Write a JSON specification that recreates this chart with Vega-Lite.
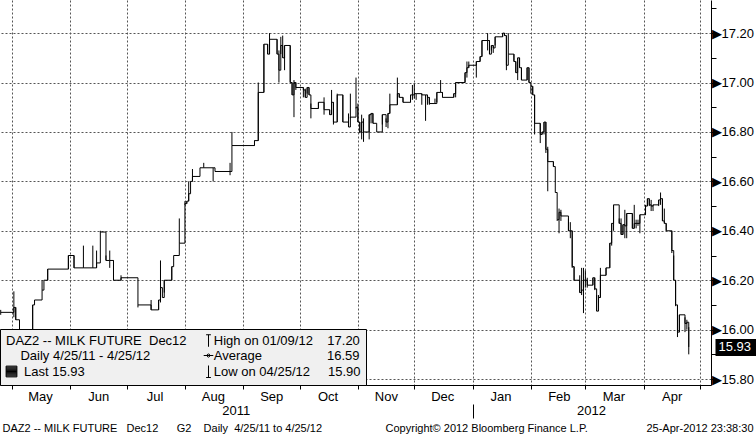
{
  "$schema": "https://vega.github.io/schema/vega-lite/v6.json",
  "width": 711,
  "height": 385,
  "autosize": {"type": "none"},
  "padding": {"left": 0, "top": 0, "right": 45, "bottom": 51},
  "background": "white",
  "config": {
    "font": "Liberation Sans",
    "view": {"stroke": null},
    "axis": {"labelFont": "Liberation Sans", "labelColor": "black", "titleColor": "black"}
  },
  "datasets": {
    "px": [
      {"date": "2011-04-25", "low": 16.06, "high": 16.08, "close": 16.07},
      {"date": "2011-05-02", "low": 16.05, "high": 16.155, "close": 16.09},
      {"date": "2011-05-03", "low": 16.04, "high": 16.09, "close": 16.04},
      {"date": "2011-05-05", "low": 15.95, "high": 16.02, "close": 15.97},
      {"date": "2011-05-10", "low": 15.94, "high": 15.99, "close": 15.96},
      {"date": "2011-05-12", "low": 15.935, "high": 16.1, "close": 16.1},
      {"date": "2011-05-13", "low": 16.12, "high": 16.12, "close": 16.12},
      {"date": "2011-05-17", "low": 16.16, "high": 16.2, "close": 16.16},
      {"date": "2011-05-18", "low": 16.2, "high": 16.2, "close": 16.2},
      {"date": "2011-05-20", "low": 16.2, "high": 16.245, "close": 16.245},
      {"date": "2011-05-31", "low": 16.245, "high": 16.3, "close": 16.3},
      {"date": "2011-06-03", "low": 16.25, "high": 16.3, "close": 16.25},
      {"date": "2011-06-08", "low": 16.25, "high": 16.34, "close": 16.25},
      {"date": "2011-06-13", "low": 16.25, "high": 16.34, "close": 16.25},
      {"date": "2011-06-15", "low": 16.25, "high": 16.32, "close": 16.27},
      {"date": "2011-06-17", "low": 16.395, "high": 16.4, "close": 16.395},
      {"date": "2011-06-20", "low": 16.28, "high": 16.3, "close": 16.28},
      {"date": "2011-06-22", "low": 16.25, "high": 16.32, "close": 16.28},
      {"date": "2011-06-24", "low": 16.2, "high": 16.28, "close": 16.2},
      {"date": "2011-06-28", "low": 16.2, "high": 16.22, "close": 16.21},
      {"date": "2011-07-07", "low": 16.09, "high": 16.1, "close": 16.1},
      {"date": "2011-07-14", "low": 16.08, "high": 16.12, "close": 16.08},
      {"date": "2011-07-18", "low": 16.08, "high": 16.12, "close": 16.12},
      {"date": "2011-07-19", "low": 16.11, "high": 16.28, "close": 16.17},
      {"date": "2011-07-20", "low": 16.13, "high": 16.13, "close": 16.13},
      {"date": "2011-07-21", "low": 16.15, "high": 16.2, "close": 16.2},
      {"date": "2011-07-25", "low": 16.2, "high": 16.255, "close": 16.255},
      {"date": "2011-07-26", "low": 16.3, "high": 16.3, "close": 16.3},
      {"date": "2011-07-29", "low": 16.35, "high": 16.45, "close": 16.35},
      {"date": "2011-08-01", "low": 16.505, "high": 16.52, "close": 16.51},
      {"date": "2011-08-02", "low": 16.51, "high": 16.52, "close": 16.52},
      {"date": "2011-08-03", "low": 16.52, "high": 16.6, "close": 16.55},
      {"date": "2011-08-04", "low": 16.6, "high": 16.6, "close": 16.6},
      {"date": "2011-08-05", "low": 16.6, "high": 16.65, "close": 16.62},
      {"date": "2011-08-09", "low": 16.655, "high": 16.655, "close": 16.655},
      {"date": "2011-08-11", "low": 16.655, "high": 16.675, "close": 16.655},
      {"date": "2011-08-16", "low": 16.6, "high": 16.655, "close": 16.655},
      {"date": "2011-08-17", "low": 16.64, "high": 16.64, "close": 16.64},
      {"date": "2011-08-25", "low": 16.625, "high": 16.675, "close": 16.64},
      {"date": "2011-08-26", "low": 16.745, "high": 16.8, "close": 16.745},
      {"date": "2011-09-07", "low": 16.745, "high": 16.765, "close": 16.765},
      {"date": "2011-09-09", "low": 16.765, "high": 17.0, "close": 16.96},
      {"date": "2011-09-12", "low": 16.96, "high": 17.155, "close": 17.155},
      {"date": "2011-09-14", "low": 17.115, "high": 17.155, "close": 17.115},
      {"date": "2011-09-15", "low": 17.115, "high": 17.2, "close": 17.175},
      {"date": "2011-09-19", "low": 17.115, "high": 17.175, "close": 17.115},
      {"date": "2011-09-20", "low": 17.0, "high": 17.13, "close": 17.05},
      {"date": "2011-09-21", "low": 17.115, "high": 17.185, "close": 17.15},
      {"date": "2011-09-22", "low": 17.1, "high": 17.19, "close": 17.1},
      {"date": "2011-09-23", "low": 17.05, "high": 17.15, "close": 17.15},
      {"date": "2011-09-26", "low": 17.0, "high": 17.15, "close": 17.0},
      {"date": "2011-09-27", "low": 16.95, "high": 17.0, "close": 16.95},
      {"date": "2011-09-28", "low": 16.86, "high": 17.01, "close": 17.0},
      {"date": "2011-09-29", "low": 16.97, "high": 17.0, "close": 16.98},
      {"date": "2011-10-03", "low": 16.94, "high": 16.98, "close": 16.97},
      {"date": "2011-10-04", "low": 16.94, "high": 16.975, "close": 16.94},
      {"date": "2011-10-05", "low": 16.955, "high": 16.98, "close": 16.98},
      {"date": "2011-10-06", "low": 16.95, "high": 16.98, "close": 16.95},
      {"date": "2011-10-07", "low": 16.855, "high": 16.915, "close": 16.895},
      {"date": "2011-10-11", "low": 16.895, "high": 16.92, "close": 16.92},
      {"date": "2011-10-14", "low": 16.87, "high": 16.94, "close": 16.89},
      {"date": "2011-10-17", "low": 16.87, "high": 16.89, "close": 16.87},
      {"date": "2011-10-18", "low": 16.87, "high": 16.97, "close": 16.92},
      {"date": "2011-10-19", "low": 16.83, "high": 16.92, "close": 16.84},
      {"date": "2011-10-21", "low": 16.84, "high": 16.955, "close": 16.95},
      {"date": "2011-10-24", "low": 16.84, "high": 16.95, "close": 16.84},
      {"date": "2011-10-27", "low": 16.82, "high": 16.875, "close": 16.82},
      {"date": "2011-10-28", "low": 16.855, "high": 16.955, "close": 16.86},
      {"date": "2011-10-31", "low": 16.895, "high": 17.02, "close": 16.9},
      {"date": "2011-11-01", "low": 16.84, "high": 16.915, "close": 16.84},
      {"date": "2011-11-02", "low": 16.795, "high": 16.84, "close": 16.8},
      {"date": "2011-11-03", "low": 16.77, "high": 16.87, "close": 16.84},
      {"date": "2011-11-04", "low": 16.76, "high": 16.855, "close": 16.8},
      {"date": "2011-11-07", "low": 16.77, "high": 16.87, "close": 16.87},
      {"date": "2011-11-08", "low": 16.835, "high": 16.875, "close": 16.875},
      {"date": "2011-11-09", "low": 16.835, "high": 16.875, "close": 16.835},
      {"date": "2011-11-11", "low": 16.8, "high": 16.8, "close": 16.8},
      {"date": "2011-11-14", "low": 16.83, "high": 16.87, "close": 16.87},
      {"date": "2011-11-16", "low": 16.82, "high": 16.855, "close": 16.84},
      {"date": "2011-11-17", "low": 16.815, "high": 16.875, "close": 16.875},
      {"date": "2011-11-18", "low": 16.875, "high": 16.955, "close": 16.91},
      {"date": "2011-11-22", "low": 16.91, "high": 17.02, "close": 16.955},
      {"date": "2011-11-23", "low": 16.94, "high": 16.955, "close": 16.94},
      {"date": "2011-11-25", "low": 16.92, "high": 16.94, "close": 16.92},
      {"date": "2011-11-29", "low": 16.92, "high": 16.95, "close": 16.95},
      {"date": "2011-11-30", "low": 16.93, "high": 16.99, "close": 16.95},
      {"date": "2011-12-01", "low": 16.935, "high": 16.995, "close": 16.955},
      {"date": "2011-12-02", "low": 16.93, "high": 16.955, "close": 16.955},
      {"date": "2011-12-05", "low": 16.91, "high": 16.955, "close": 16.95},
      {"date": "2011-12-07", "low": 16.845, "high": 16.95, "close": 16.95},
      {"date": "2011-12-08", "low": 16.91, "high": 16.95, "close": 16.94},
      {"date": "2011-12-09", "low": 16.91, "high": 16.94, "close": 16.915},
      {"date": "2011-12-12", "low": 16.915, "high": 16.935, "close": 16.915},
      {"date": "2011-12-13", "low": 16.92, "high": 16.96, "close": 16.96},
      {"date": "2011-12-15", "low": 16.96, "high": 17.01, "close": 16.96},
      {"date": "2011-12-16", "low": 16.94, "high": 16.96, "close": 16.94},
      {"date": "2011-12-22", "low": 16.94, "high": 16.955, "close": 16.955},
      {"date": "2011-12-23", "low": 16.94, "high": 17.0, "close": 17.0},
      {"date": "2011-12-28", "low": 17.0, "high": 17.04, "close": 17.04},
      {"date": "2011-12-29", "low": 17.02, "high": 17.085, "close": 17.06},
      {"date": "2011-12-30", "low": 17.06, "high": 17.085, "close": 17.07},
      {"date": "2012-01-03", "low": 17.02, "high": 17.085, "close": 17.085},
      {"date": "2012-01-05", "low": 17.085, "high": 17.105, "close": 17.105},
      {"date": "2012-01-06", "low": 17.105, "high": 17.17, "close": 17.17},
      {"date": "2012-01-09", "low": 17.13, "high": 17.2, "close": 17.17},
      {"date": "2012-01-10", "low": 17.115, "high": 17.17, "close": 17.115},
      {"date": "2012-01-11", "low": 17.13, "high": 17.15, "close": 17.15},
      {"date": "2012-01-12", "low": 17.12, "high": 17.15, "close": 17.14},
      {"date": "2012-01-13", "low": 17.15, "high": 17.185, "close": 17.185},
      {"date": "2012-01-17", "low": 17.185, "high": 17.2, "close": 17.2},
      {"date": "2012-01-18", "low": 17.19, "high": 17.2, "close": 17.19},
      {"date": "2012-01-19", "low": 17.05, "high": 17.19, "close": 17.07},
      {"date": "2012-01-20", "low": 17.115, "high": 17.2, "close": 17.115},
      {"date": "2012-01-23", "low": 17.085, "high": 17.115, "close": 17.085},
      {"date": "2012-01-24", "low": 17.04, "high": 17.085, "close": 17.04},
      {"date": "2012-01-25", "low": 17.01, "high": 17.1, "close": 17.1},
      {"date": "2012-01-26", "low": 17.06, "high": 17.1, "close": 17.06},
      {"date": "2012-01-27", "low": 17.01, "high": 17.06, "close": 17.01},
      {"date": "2012-01-30", "low": 17.01, "high": 17.06, "close": 17.06},
      {"date": "2012-01-31", "low": 17.0, "high": 17.06, "close": 17.0},
      {"date": "2012-02-01", "low": 16.955, "high": 16.985, "close": 16.985},
      {"date": "2012-02-02", "low": 16.95, "high": 16.985, "close": 16.95},
      {"date": "2012-02-03", "low": 16.79, "high": 16.95, "close": 16.835},
      {"date": "2012-02-06", "low": 16.755, "high": 16.835, "close": 16.79},
      {"date": "2012-02-07", "low": 16.79, "high": 16.8, "close": 16.8},
      {"date": "2012-02-08", "low": 16.79, "high": 16.84, "close": 16.84},
      {"date": "2012-02-09", "low": 16.715, "high": 16.84, "close": 16.73},
      {"date": "2012-02-10", "low": 16.56, "high": 16.74, "close": 16.68},
      {"date": "2012-02-13", "low": 16.66, "high": 16.68, "close": 16.66},
      {"date": "2012-02-14", "low": 16.555, "high": 16.555, "close": 16.555},
      {"date": "2012-02-15", "low": 16.44, "high": 16.445, "close": 16.445},
      {"date": "2012-02-16", "low": 16.39, "high": 16.49, "close": 16.475},
      {"date": "2012-02-17", "low": 16.44, "high": 16.485, "close": 16.46},
      {"date": "2012-02-21", "low": 16.4, "high": 16.45, "close": 16.4},
      {"date": "2012-02-22", "low": 16.37, "high": 16.435, "close": 16.4},
      {"date": "2012-02-23", "low": 16.25, "high": 16.4, "close": 16.255},
      {"date": "2012-02-24", "low": 16.2, "high": 16.255, "close": 16.2},
      {"date": "2012-02-27", "low": 16.15, "high": 16.22, "close": 16.15},
      {"date": "2012-02-28", "low": 16.14, "high": 16.25, "close": 16.16},
      {"date": "2012-02-29", "low": 16.067, "high": 16.25, "close": 16.2},
      {"date": "2012-03-01", "low": 16.17, "high": 16.24, "close": 16.2},
      {"date": "2012-03-02", "low": 16.17, "high": 16.21, "close": 16.18},
      {"date": "2012-03-05", "low": 16.18, "high": 16.21, "close": 16.21},
      {"date": "2012-03-06", "low": 16.16, "high": 16.21, "close": 16.165},
      {"date": "2012-03-07", "low": 16.075, "high": 16.14, "close": 16.075},
      {"date": "2012-03-08", "low": 16.11, "high": 16.14, "close": 16.13},
      {"date": "2012-03-09", "low": 16.13, "high": 16.25, "close": 16.22},
      {"date": "2012-03-12", "low": 16.22, "high": 16.25, "close": 16.25},
      {"date": "2012-03-14", "low": 16.25, "high": 16.35, "close": 16.35},
      {"date": "2012-03-15", "low": 16.34, "high": 16.43, "close": 16.43},
      {"date": "2012-03-16", "low": 16.4, "high": 16.505, "close": 16.505},
      {"date": "2012-03-19", "low": 16.43, "high": 16.45, "close": 16.43},
      {"date": "2012-03-20", "low": 16.385, "high": 16.45, "close": 16.385},
      {"date": "2012-03-21", "low": 16.385, "high": 16.425, "close": 16.425},
      {"date": "2012-03-22", "low": 16.37, "high": 16.485, "close": 16.42},
      {"date": "2012-03-23", "low": 16.37, "high": 16.47, "close": 16.47},
      {"date": "2012-03-26", "low": 16.41, "high": 16.47, "close": 16.41},
      {"date": "2012-03-27", "low": 16.41, "high": 16.505, "close": 16.43},
      {"date": "2012-03-28", "low": 16.41, "high": 16.445, "close": 16.43},
      {"date": "2012-03-29", "low": 16.42, "high": 16.445, "close": 16.43},
      {"date": "2012-03-30", "low": 16.39, "high": 16.465, "close": 16.465},
      {"date": "2012-04-02", "low": 16.465, "high": 16.505, "close": 16.5},
      {"date": "2012-04-03", "low": 16.5, "high": 16.53, "close": 16.53},
      {"date": "2012-04-04", "low": 16.5, "high": 16.53, "close": 16.505},
      {"date": "2012-04-05", "low": 16.48, "high": 16.525, "close": 16.5},
      {"date": "2012-04-06", "low": 16.48, "high": 16.505, "close": 16.505},
      {"date": "2012-04-09", "low": 16.5, "high": 16.525, "close": 16.525},
      {"date": "2012-04-10", "low": 16.505, "high": 16.555, "close": 16.53},
      {"date": "2012-04-11", "low": 16.44, "high": 16.53, "close": 16.44},
      {"date": "2012-04-12", "low": 16.43, "high": 16.49, "close": 16.43},
      {"date": "2012-04-13", "low": 16.4, "high": 16.43, "close": 16.4},
      {"date": "2012-04-16", "low": 16.31, "high": 16.4, "close": 16.32},
      {"date": "2012-04-17", "low": 16.2, "high": 16.3, "close": 16.2},
      {"date": "2012-04-18", "low": 16.095, "high": 16.2, "close": 16.1},
      {"date": "2012-04-19", "low": 15.97, "high": 16.1, "close": 15.99},
      {"date": "2012-04-20", "low": 15.99, "high": 16.06, "close": 16.06},
      {"date": "2012-04-23", "low": 15.99, "high": 16.05, "close": 16.025},
      {"date": "2012-04-24", "low": 16.0, "high": 16.04, "close": 16.03},
      {"date": "2012-04-25", "low": 15.9, "high": 16.01, "close": 15.93}
    ],
    "legend": [
      {"key": "DAZ2 -- MILK FUTURE\u00a0 Dec12"},
      {"key": "\u200b\u00a0\u00a0\u00a0\u00a0Daily 4/25/11 - 4/25/12"},
      {"key": "\u200b\u00a0\u00a0\u00a0\u00a0\u00a0Last 15.93"},
      {"key": "\u200b\u00a0\u00a0\u00a0High on 01/09/12\u00a0\u00a0\u00a0 17.20"},
      {"key": "\u200b\u00a0\u00a0\u00a0Average\u00a0\u00a0\u00a0\u00a0\u00a0\u00a0\u00a0\u00a0\u00a0\u00a0\u00a0\u00a0\u00a0\u00a0\u00a0\u00a0\u00a0\u00a016.59"},
      {"key": "\u200b\u00a0\u00a0\u00a0Low on 04/25/12\u00a0\u00a0\u00a0\u00a0 15.90"}
    ]
  },
  "layer": [
    {
      "data": {"name": "px"},
      "mark": {"type": "line", "interpolate": "step-after", "color": "black", "strokeWidth": 1},
      "encoding": {
        "x": {
          "field": "date", "type": "temporal",
          "scale": {"type": "utc", "domain": [{"year": 2011, "month": 4, "date": 24, "hours": 15, "utc": true}, {"year": 2012, "month": 5, "date": 6, "hours": 20, "utc": true}]},
          "axis": {
            "orient": "bottom", "title": null,
            "values": [
              {"year": 2011, "month": 5, "date": 1, "utc": true},
              {"year": 2011, "month": 6, "date": 1, "utc": true},
              {"year": 2011, "month": 7, "date": 1, "utc": true},
              {"year": 2011, "month": 8, "date": 1, "utc": true},
              {"year": 2011, "month": 9, "date": 1, "utc": true},
              {"year": 2011, "month": 10, "date": 1, "utc": true},
              {"year": 2011, "month": 11, "date": 1, "utc": true},
              {"year": 2011, "month": 12, "date": 1, "utc": true},
              {"year": 2012, "month": 1, "date": 1, "utc": true},
              {"year": 2012, "month": 2, "date": 1, "utc": true},
              {"year": 2012, "month": 3, "date": 1, "utc": true},
              {"year": 2012, "month": 4, "date": 1, "utc": true},
              {"year": 2012, "month": 5, "date": 1, "utc": true}
            ],
            "labelExpr": "utcFormat(datum.value, '%Y-%m') == '2012-05' ? '' : utcFormat(datum.value, '%b')",
            "labelOffset": 28, "labelPadding": 1, "labelFontSize": 13,
            "labelFlush": false, "labelOverlap": false, "labelBound": false,
            "tickSize": 4, "tickColor": "black", "domainColor": "black", "domainWidth": 1,
            "grid": true, "gridColor": "#555555", "gridDash": [2, 2], "gridWidth": 1, "gridOpacity": 1
          }
        },
        "y": {
          "field": "close", "type": "quantitative",
          "scale": {"domain": [15.776, 17.334], "nice": false, "zero": false},
          "axis": {
            "orient": "right", "title": null,
            "values": [15.8, 15.9, 16.0, 16.1, 16.2, 16.3, 16.4, 16.5, 16.6, 16.7, 16.8, 16.9, 17.0, 17.1, 17.2, 17.3],
            "labelExpr": "round(datum.value * 10) % 2 == 0 ? '▶' + format(datum.value, '.2f') : ''",
            "tickSize": 5, "tickColor": "black", "domainColor": "black",
            "labelPadding": -5, "labelFontSize": 13,
            "labelFlush": false, "labelOverlap": false, "labelBound": false,
            "grid": true, "gridColor": "#555555", "gridDash": [2, 2], "gridWidth": 1,
            "gridOpacity": {"condition": {"test": "round(datum.value * 10) % 2 == 0", "value": 1}, "value": 0}
          }
        }
      }
    },
    {
      "data": {"name": "px"},
      "mark": {"type": "rule", "color": "black", "strokeWidth": 1},
      "encoding": {
        "x": {
          "field": "date", "type": "temporal",
          "scale": {"type": "utc", "domain": [{"year": 2011, "month": 4, "date": 24, "hours": 15, "utc": true}, {"year": 2012, "month": 5, "date": 6, "hours": 20, "utc": true}]},
          "axis": {
            "orient": "bottom", "offset": 19, "title": null, "domain": false, "grid": false,
            "values": [
              {"year": 2011, "month": 8, "date": 28, "utc": true},
              {"year": 2012, "month": 1, "date": 1, "utc": true},
              {"year": 2012, "month": 3, "date": 4, "utc": true}
            ],
            "labelExpr": "utcFormat(datum.value, '%m-%d') == '01-01' ? '' : utcFormat(datum.value, '%Y')",
            "tickSize": 14, "tickColor": "black",
            "tickOpacity": {"condition": {"test": "utcFormat(datum.value, '%m-%d') == '01-01'", "value": 1}, "value": 0},
            "labelPadding": -14, "labelFontSize": 13,
            "labelFlush": false, "labelOverlap": false, "labelBound": false
          }
        },
        "y": {
          "field": "low", "type": "quantitative",
          "scale": {"domain": [15.776, 17.334], "nice": false, "zero": false},
          "axis": {
            "orient": "right", "offset": 4, "title": null, "domain": false, "grid": false,
            "values": [15.93],
            "labelExpr": "format(datum.value, '.2f')",
            "tickSize": 41, "tickWidth": 17, "tickColor": "black",
            "labelColor": "white", "labelFontSize": 13, "labelPadding": -38,
            "labelFlush": false, "labelOverlap": false, "labelBound": false, "zindex": 3
          }
        },
        "y2": {"field": "high"}
      }
    },
    {
      "data": {"name": "legend"},
      "mark": {"type": "point", "filled": false, "color": "black", "strokeWidth": 1, "opacity": 1},
      "encoding": {
        "x": {
          "field": "date", "type": "temporal",
          "scale": {"type": "utc", "domain": [{"year": 2011, "month": 4, "date": 24, "hours": 15, "utc": true}, {"year": 2012, "month": 5, "date": 6, "hours": 20, "utc": true}]},
          "axis": {
            "orient": "bottom", "offset": 37, "title": null, "domain": false, "grid": false, "ticks": false,
            "values": [
              {"year": 2011, "month": 4, "date": 24, "hours": 15, "utc": true},
              {"year": 2011, "month": 11, "date": 14, "hours": 9, "utc": true},
              {"year": 2012, "month": 5, "date": 6, "hours": 20, "utc": true}
            ],
            "labelExpr": "datum.index == 0 ? 'DAZ2 -- MILK FUTURE\u00a0\u00a0\u00a0Dec12\u00a0\u00a0\u00a0\u00a0\u00a0\u00a0G2\u00a0\u00a0\u00a0\u00a0Daily\u00a0\u00a04/25/11 to 4/25/12' : datum.index == 1 ? '25-Apr-2012 23:38:30' : 'Copyright© 2012 Bloomberg Finance L.P.'",
            "labelAlign": {"condition": {"test": "datum.index == 1", "value": "right"}, "value": "left"},
            "labelOffset": {"condition": {"test": "datum.index == 1", "value": 42}, "value": 2},
            "labelPadding": 0, "labelFontSize": 11, "labelLimit": 600,
            "labelFlush": false, "labelOverlap": false, "labelBound": false
          }
        },
        "y": {
          "field": "v", "type": "quantitative",
          "scale": {"domain": [15.776, 17.334], "nice": false, "zero": false},
          "axis": null
        },
        "shape": {
          "field": "key", "type": "nominal",
          "scale": {
            "domain": [
              "DAZ2 -- MILK FUTURE\u00a0 Dec12",
              "\u200b\u00a0\u00a0\u00a0\u00a0Daily 4/25/11 - 4/25/12",
              "\u200b\u00a0\u00a0\u00a0\u00a0\u00a0Last 15.93",
              "\u200b\u00a0\u00a0\u00a0High on 01/09/12\u00a0\u00a0\u00a0 17.20",
              "\u200b\u00a0\u00a0\u00a0Average\u00a0\u00a0\u00a0\u00a0\u00a0\u00a0\u00a0\u00a0\u00a0\u00a0\u00a0\u00a0\u00a0\u00a0\u00a0\u00a0\u00a0\u00a016.59",
              "\u200b\u00a0\u00a0\u00a0Low on 04/25/12\u00a0\u00a0\u00a0\u00a0 15.90"
            ],
            "range": [
              "M 0 0",
              "M 0 0",
              "M -0.9 -0.9 L 0.9 -0.9 M -0.9 -0.75 L 0.9 -0.75 M -0.9 -0.6 L 0.9 -0.6 M -0.9 -0.45 L 0.9 -0.45 M -0.9 -0.3 L 0.9 -0.3 M -0.9 -0.15 L 0.9 -0.15 M -0.9 0 L 0.9 0 M -0.9 0.15 L 0.9 0.15 M -0.9 0.3 L 0.9 0.3 M -0.9 0.45 L 0.9 0.45 M -0.9 0.6 L 0.9 0.6 M -0.9 0.75 L 0.9 0.75 M -0.9 0.9 L 0.9 0.9 M -0.9 -0.9 L -0.9 0.9 M 0.9 -0.9 L 0.9 0.9",
              "M -0.4 -1 L 0.4 -1 M 0 -1 L 0 1",
              "M -0.8 0 L 0.8 0 M 0 -0.3 L 0.3 0 L 0 0.3 L -0.3 0 Z M -0.15 -0.15 L 0.15 0.15 M -0.15 0.15 L 0.15 -0.15",
              "M 0 -1 L 0 1 M -0.4 1 L 0.4 1"
            ]
          },
          "legend": {
            "title": null, "orient": "bottom-left", "offset": 0, "columns": 2,
            "columnPadding": 14, "rowPadding": 0, "padding": 5,
            "fillColor": "#f0f0f0", "strokeColor": "black",
            "symbolSize": 144, "symbolStrokeWidth": 1, "symbolOpacity": 1,
            "labelFont": "Liberation Sans", "labelFontSize": 13, "labelColor": "black",
            "labelOffset": -12, "labelLimit": 400,
            "zindex": 2
          }
        }
      }
    }
  ],
  "resolve": {"axis": {"x": "independent", "y": "independent"}}
}
